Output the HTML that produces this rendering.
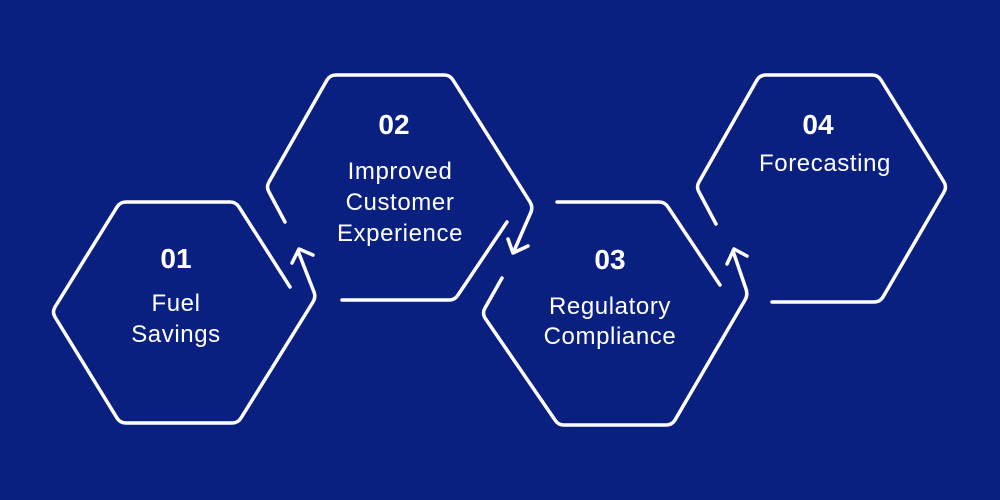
<!DOCTYPE html>
<html><head><meta charset="utf-8"><style>
html,body{margin:0;padding:0;background:#0a2080;}
svg{display:block}
text{font-family:"Liberation Sans",sans-serif;fill:#fff;text-anchor:middle}
.n{font-weight:bold;font-size:28px}
.l{font-size:24px;letter-spacing:0.6px}
</style></head><body>
<svg width="1000" height="500" viewBox="0 0 1000 500" xmlns="http://www.w3.org/2000/svg">
<rect width="1000" height="500" fill="#0a2080"/>
<g fill="none" stroke="#fff" stroke-width="3.5" stroke-linejoin="round" stroke-linecap="round">
<path d="M298,251 L314,292 Q316,297 313,302 L241,418 Q238,423 232,423 L126,423 Q120,423 117,418 L55,317 Q52,312 55,307 L117,207 Q120,202 126,202 L230,202 Q236,202 239,207 L290,287"/>
<path d="M292,263 L299,249 L313,255"/>
<path d="M285,222 L269,192 Q266,187 269,182 L327,80 Q330,75 336,75 L444,75 Q450,75 453,80 L530,202 Q533,207 531,212 L514,251"/>
<path d="M508,239 L513,253 L528,246"/>
<path d="M507,222 L458,295 Q455,300 449,300 L342,300"/>
<path d="M557,202 L659,202 Q665,202 668,207 L720,285"/>
<path d="M733,251 L746,289 Q748,295 745,300 L675,420 Q672,425 666,425 L564,425 Q558,425 555,420 L485,318 Q482,313 485,308 L502,278"/>
<path d="M727,264 L734,249 L747,256"/>
<path d="M716,224 L699,192 Q696,187 699,182 L757,80 Q760,75 766,75 L872,75 Q878,75 881,80 L944,182 Q947,187 944,192 L883,297 Q880,302 874,302 L772,302"/>
</g>
<text class="n" x="176" y="268">01</text>
<text class="l" x="176" y="311">Fuel</text>
<text class="l" x="176" y="342">Savings</text>
<text class="n" x="394" y="134">02</text>
<text class="l" x="400" y="179">Improved</text>
<text class="l" x="400" y="210">Customer</text>
<text class="l" x="400" y="241">Experience</text>
<text class="n" x="610" y="269">03</text>
<text class="l" x="610" y="314">Regulatory</text>
<text class="l" x="610" y="344">Compliance</text>
<text class="n" x="818" y="134">04</text>
<text class="l" x="825" y="171">Forecasting</text>
</svg>
</body></html>
